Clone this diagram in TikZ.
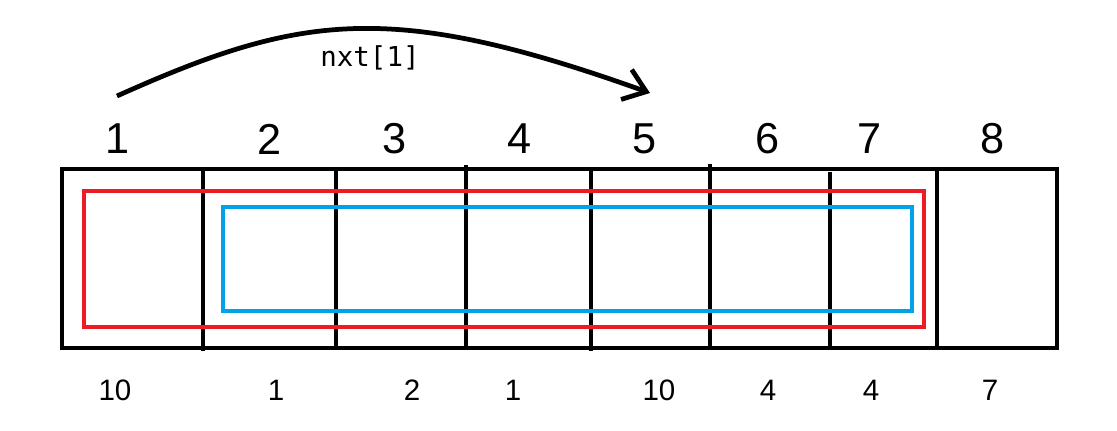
\documentclass[tikz,border=0pt]{standalone}
\usepackage{fontspec}
\setmainfont{Liberation Sans}
\newfontfamily\codefont{DejaVu Sans Mono}
\usetikzlibrary{arrows.meta}
\definecolor{PaintRed}{HTML}{ED1C24}
\definecolor{PaintBlue}{HTML}{00A2E8}

\begin{document}
\begin{tikzpicture}[x=0.01cm,y=-0.01cm,>={Straight Barb[length=6pt,width=9pt]},
  cell/.style={line width=1.35pt},
  idx/.style={font=\fontsize{12.3}{14}\selectfont},
  val/.style={font=\fontsize{8.4}{10}\selectfont}]
  \useasboundingbox (0,0) rectangle (1117,431);
  % array cells
  \draw[cell] (62,169) rectangle (1057,348);
  \foreach \x/\a/\b in {203/169/351,336/169/348,466/165/348,591/169/351,710/164/348,830/172/348,937/169/348}
    \draw[cell] (\x,\a)--(\x,\b);
  % ranges
  \draw[PaintRed,line width=1.15pt] (84,191) rectangle (924,327);
  \draw[PaintBlue,line width=1.15pt] (223,207) rectangle (912,311);
  % indices and values
  \foreach \i/\x in {1/118,2/270,3/395,4/520,5/645,6/768,7/870,8/993}
    \node[idx] (i\i) at (\x,139) {\i};
  \foreach \i/\x/\v in {1/115/10,2/276/1,3/412/2,4/513/1,5/659/10,6/768/4,7/871/4,8/990/7}
    \node[val] (v\i) at (\x,390) {\v};
  % jump
  \coordinate (s1) at (117,96);
  \coordinate (s5) at (650,93);
  \draw[->,line width=1.35pt] (s1) .. controls (300,14) and (390,0) .. (s5);
  \node[font=\codefont\fontsize{7.8}{10}\selectfont] (jump) at (370,58) {nxt[1]};
\end{tikzpicture}
\end{document}
